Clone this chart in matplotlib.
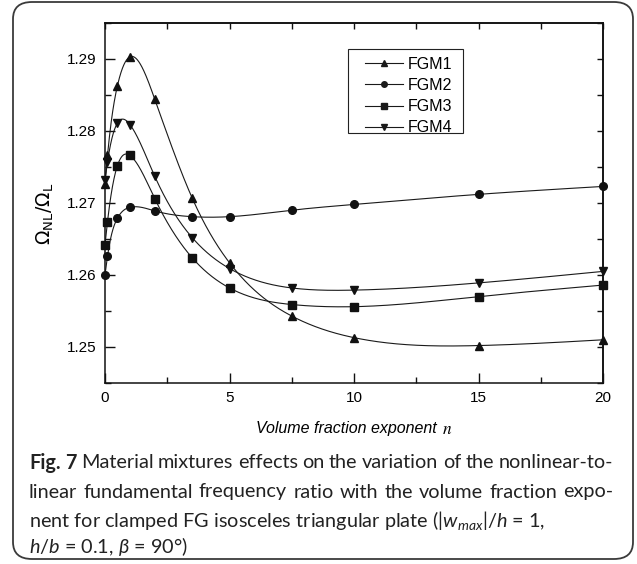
import numpy as np
import matplotlib
matplotlib.use("Agg")
import matplotlib.pyplot as plt
from matplotlib.patches import FancyBboxPatch, Rectangle
from matplotlib.ticker import MultipleLocator

# ---------------- data ----------------
n_vals = [0, 0.1, 0.5, 1, 2, 3.5, 5, 7.5, 10, 15, 20]
fgm1 = [1.2727, 1.2766, 1.2863, 1.2903, 1.2844, 1.2707, 1.2617, 1.2543, 1.2513, 1.2502, 1.2510]
fgm2 = [1.2600, 1.2626, 1.2679, 1.2694, 1.2689, 1.2681, 1.2681, 1.2690, 1.2698, 1.2712, 1.2723]
fgm3 = [1.2642, 1.2674, 1.2752, 1.2766, 1.2706, 1.2624, 1.2582, 1.2559, 1.2556, 1.2570, 1.2586]
fgm4 = [1.2732, 1.2757, 1.2811, 1.2809, 1.2737, 1.2652, 1.2609, 1.2582, 1.2579, 1.2589, 1.2605]
series_names = ["FGM1", "FGM2", "FGM3", "FGM4"]
markers = ["^", "o", "s", "v"]

x_ticks = [0, 5, 10, 15, 20]
y_ticks = [1.25, 1.26, 1.27, 1.28, 1.29]
x_label = "Volume fraction exponent "
y_label = r"$\Omega_{\mathrm{NL}}/\Omega_{\mathrm{L}}$"

caption_lines = [
    [("Fig.", "bold"), ("7", "bold")] + [(w, "normal") for w in
        "Material mixtures effects on the variation of the nonlinear-to-".split()],
    [(w, "normal") for w in
        "linear fundamental frequency ratio with the volume fraction expo-".split()],
]
caption_line3 = r"nent for clamped FG isosceles triangular plate (|$w_{max}$|/$h$ = 1,"
caption_line4 = r"$h$/$b$ = 0.1, $\beta$ = 90°)"


def natural_spline(x, y, xs):
    x = np.asarray(x, float); y = np.asarray(y, float)
    n = len(x)
    h = np.diff(x)
    A = np.zeros((n, n)); r = np.zeros(n)
    A[0, 0] = 1; A[-1, -1] = 1
    for i in range(1, n - 1):
        A[i, i - 1] = h[i - 1]
        A[i, i] = 2 * (h[i - 1] + h[i])
        A[i, i + 1] = h[i]
        r[i] = 6 * ((y[i + 1] - y[i]) / h[i] - (y[i] - y[i - 1]) / h[i - 1])
    M = np.linalg.solve(A, r)
    idx = np.clip(np.searchsorted(x, xs) - 1, 0, n - 2)
    x0 = x[idx]; x1 = x[idx + 1]; hh = x1 - x0
    a = (x1 - xs) / hh; b = (xs - x0) / hh
    return (a * y[idx] + b * y[idx + 1]
            + ((a ** 3 - a) * M[idx] + (b ** 3 - b) * M[idx + 1]) * hh ** 2 / 6)


plt.rcParams["mathtext.fontset"] = "custom"
plt.rcParams["mathtext.rm"] = "Lato"
plt.rcParams["mathtext.it"] = "Lato:italic"

W, H = 637, 564
fig = plt.figure(figsize=(W / 100, H / 100), dpi=100)

# rounded frame around whole figure
frame = FancyBboxPatch((13 / W, 5 / H), 620 / W, 557 / H,
                       boxstyle="round,pad=0,rounding_size=0.03",
                       transform=fig.transFigure, facecolor="none",
                       edgecolor="#3a3a3a", linewidth=1.3, zorder=-5)
fig.patches.append(frame)

ax = fig.add_axes([105 / W, 1 - 383 / H, 498 / W, 360 / H])
chart_font = ["Liberation Sans", "DejaVu Sans"]

xs = np.linspace(0, 20, 2000)
for name, ys, mk in zip(series_names, [fgm1, fgm2, fgm3, fgm4], markers):
    ax.plot(xs, natural_spline(n_vals, ys, xs), color="#1a1a1a", lw=0.8, zorder=2)
    ax.plot(n_vals, ys, linestyle="none", marker=mk, color="#111111",
            ms=5.5, zorder=3, clip_on=False)
    ax.plot([], [], color="#1a1a1a", lw=0.8, marker=mk, ms=4, label=name)

ax.set_xlim(0, 20)
ax.set_ylim(1.245, 1.295)
ax.set_xticks(x_ticks)
ax.set_yticks(y_ticks)
ax.xaxis.set_minor_locator(MultipleLocator(2.5))
ax.yaxis.set_minor_locator(MultipleLocator(0.005))
ax.set_xticklabels([str(v) for v in x_ticks], fontfamily=chart_font, fontsize=11)
ax.set_yticklabels([f"{v:.2f}" for v in y_ticks], fontfamily=chart_font, fontsize=11)
ax.tick_params(which="major", direction="in", length=7, width=1.0, pad=6, color="#111")
ax.tick_params(which="minor", direction="in", length=4, width=1.0, color="#111")
for s in ax.spines.values():
    s.set_linewidth(1.1)
    s.set_color("#111")

secx = ax.secondary_xaxis("top")
secx.set_xticks(np.arange(0, 20.01, 2.5))
secx.set_xticklabels([])
secx.tick_params(direction="in", length=4, width=1.0, color="#111")
secx.spines["top"].set_linewidth(1.1)
secy = ax.secondary_yaxis("right")
secy.set_yticks(np.arange(1.245, 1.2951, 0.005))
secy.set_yticklabels([])
secy.tick_params(direction="in", length=4, width=1.0, color="#111")
secy.spines["right"].set_linewidth(1.1)

renderer = fig.canvas.get_renderer()

# x label: italic sans words + serif italic n
xl = fig.text(0, 1 - 429 / H, x_label, fontfamily=chart_font, fontstyle="italic",
              fontsize=11.5, ha="left", va="center")
xn = fig.text(0, 1 - 429 / H, "$n$", math_fontfamily="stix",
              fontsize=12.5, ha="left", va="center")
w1 = xl.get_window_extent(renderer).width
w2 = xn.get_window_extent(renderer).width
x_start = 354 - (w1 + w2) / 2
xl.set_x(x_start / W)
xn.set_x((x_start + w1) / W)

fig.text(45 / W, 1 - 214 / H, y_label, math_fontfamily="dejavusans", rotation=90,
         fontsize=13.5, ha="center", va="center")

# legend: frameless entries plus a separately drawn box
leg = ax.legend(loc="upper left", bbox_to_anchor=(365 / W, 1 - 57 / H),
                bbox_transform=fig.transFigure, borderaxespad=0, borderpad=0,
                frameon=False, handlelength=2.4, labelspacing=0.38,
                handletextpad=0.25, prop={"family": chart_font, "size": 11.5})
fig.patches.append(Rectangle((348 / W, 1 - 133 / H), 115 / W, 84 / H,
                             transform=fig.transFigure, facecolor="none",
                             edgecolor="#222", linewidth=0.8, zorder=1))

# ---------------- caption ----------------
cap_font = ["Lato", "DejaVu Sans"]
left_px, right_px = 29, 613
line_y = [463, 492, 520, 547]

cap_size = 14.5
probe = fig.text(0, 0, "linear fundamental frequency ratio with the volume fraction expo-",
                 fontfamily=cap_font, fontsize=cap_size)
pw = probe.get_window_extent(renderer).width
probe.remove()
cap_size = cap_size * min(1.0, (right_px - left_px) * 0.985 / pw)

for li, tokens in enumerate(caption_lines):
    texts = []
    for w, weight in tokens:
        t = fig.text(0, 1 - line_y[li] / H, w, fontfamily=cap_font, fontweight=weight,
                     fontsize=cap_size, ha="left", va="center", color="#222")
        texts.append(t)
    widths = [t.get_window_extent(renderer).width for t in texts]
    gap = (right_px - left_px - sum(widths)) / (len(texts) - 1)
    x = left_px
    for t, wd in zip(texts, widths):
        t.set_x(x / W)
        x += wd + gap

fig.text(left_px / W, 1 - line_y[2] / H, caption_line3, fontfamily=cap_font,
         math_fontfamily="custom", fontsize=cap_size, ha="left", va="center", color="#222")
fig.text(left_px / W, 1 - line_y[3] / H, caption_line4, fontfamily=cap_font,
         math_fontfamily="custom", fontsize=cap_size, ha="left", va="center", color="#222")

fig.savefig("out.png", dpi=100)
